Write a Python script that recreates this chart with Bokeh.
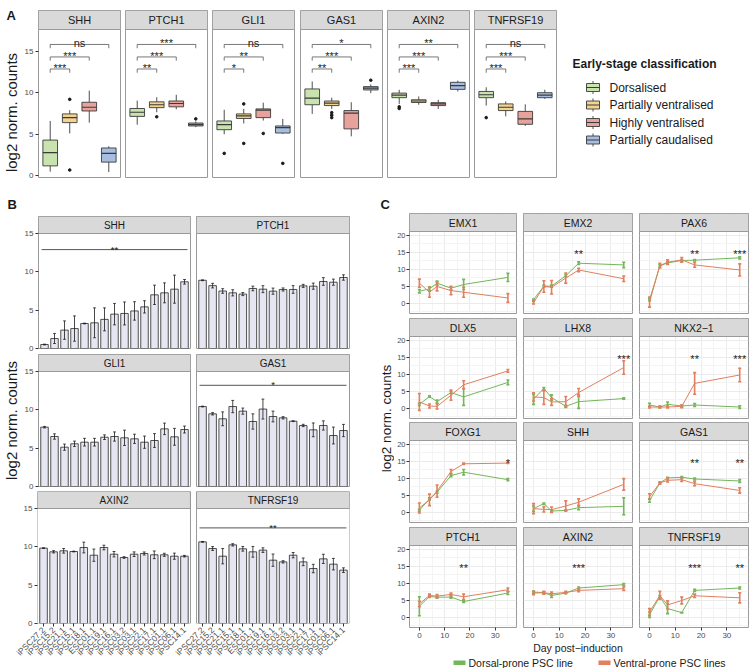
import numpy as np
from bokeh.plotting import figure
from bokeh.models import Range1d, FixedTicker, ColumnDataSource
from bokeh.layouts import row, column
from bokeh.embed import file_html
from bokeh.resources import INLINE
from bokeh.core.properties import value

FONT = "Liberation Sans"
OUTLINE = "#9a9a9a"
STRIP_FILL = "#d9d9d9"
TEXT = "#1a1a1a"
TICK_TEXT = "#4d4d4d"
BOX_LINE = "#3a3a3a"

# ---------------- Panel A data ----------------
a_genes = ["SHH", "PTCH1", "GLI1", "GAS1", "AXIN2", "TNFRSF19"]
a_groups = ["Dorsalised", "Partially ventralised", "Highly ventralised", "Partially caudalised"]
a_colors = ["#C8E3AE", "#F3D48E", "#E7A29C", "#A8BEE0"]
a_lower = [[0.5, 5.1, 6.4, 0.45], [6.15, 7.65, 8.0, 5.85], [5.0, 6.3, 6.65, 5.05],
           [7.45, 8.05, 4.75, 9.95], [8.65, 8.55, 8.05, 10.15], [8.45, 7.15, 6.0, 9.25]]
a_q1 = [[1.2, 6.4, 7.8, 1.65], [7.15, 8.2, 8.3, 6.0], [5.55, 6.9, 7.0, 5.15],
        [8.55, 8.45, 5.65, 10.33], [9.4, 8.82, 8.45, 10.4], [9.4, 7.85, 6.2, 9.4]]
a_median = [[2.8, 7.0, 8.25, 2.7], [7.65, 8.55, 8.7, 6.15], [6.15, 7.2, 7.9, 5.8],
            [9.35, 8.75, 7.55, 10.55], [9.7, 9.0, 8.65, 10.85], [9.75, 8.25, 6.85, 9.7]]
a_q3 = [[4.3, 7.45, 8.85, 3.35], [8.1, 8.9, 9.0, 6.35], [6.6, 7.45, 8.05, 6.0],
        [10.45, 9.0, 7.85, 10.73], [9.95, 9.15, 8.8, 11.25], [10.15, 8.65, 7.75, 10.0]]
a_upper = [[6.6, 7.9, 10.25, 3.55], [9.05, 9.45, 9.75, 6.55], [7.95, 8.05, 8.8, 6.85],
           [11.35, 9.4, 8.85, 11.0], [10.35, 9.55, 9.15, 11.45], [10.65, 8.95, 8.6, 10.35]]
a_outliers = [
    [[], [9.2, 0.7], [], []],
    [[], [7.1], [], [6.85]],
    [[2.7], [8.65, 3.9], [5.1], [1.5]],
    [[], [7.6, 7.3, 7.0], [], [11.5]],
    [[8.3, 8.1], [], [], []],
    [[7.0], [], [], []],
]
a_sig_labels = [["***", "***", "ns"], ["**", "***", "***"], ["*", "**", "ns"],
                ["**", "***", "*"], ["***", "***", "**"], ["***", "***", "ns"]]
a_sig_levels = [12.85, 14.3, 15.8]
a_legend_title = "Early-stage classification"

# ---------------- Panel B data ----------------
b_genes = ["SHH", "PTCH1", "GLI1", "GAS1", "AXIN2", "TNFRSF19"]
b_lines = ["iPSC27.2", "iPSC15.2", "iPSC21.1", "iPSC15.1", "iPSC18.1", "ESC01.1", "iPSC19.1",
           "iPSC16.1", "iPSC03.2", "iPSC03.1", "iPSC22.1", "iPSC17.1", "iPSC01.1", "iPSC06.1", "iPSC14.1"]
b_shh = [0.52, 1.3, 2.4, 2.6, 3.26, 3.35, 3.8, 4.48, 4.57, 4.9, 5.43, 7.0, 7.26, 7.74, 8.7]
b_shh_err = [0.05, 0.65, 1.2, 1.65, 0.05, 1.95, 1.5, 1.4, 1.5, 1.2, 0.8, 1.26, 1.3, 1.83, 0.3]
b_ptch1 = [8.9, 8.2, 7.5, 7.26, 7.1, 7.83, 7.74, 7.48, 7.7, 7.7, 8.17, 8.13, 8.74, 8.65, 9.26]
b_ptch1_err = [0.05, 0.3, 0.3, 0.4, 0.2, 0.3, 0.45, 0.4, 0.2, 0.5, 0.2, 0.4, 0.5, 0.4, 0.35]
b_gli1 = [7.74, 6.52, 5.13, 5.57, 5.78, 5.78, 6.43, 6.52, 6.35, 6.22, 5.78, 6.0, 7.52, 6.48, 7.43]
b_gli1_err = [0.1, 0.35, 0.4, 0.35, 0.5, 0.5, 0.3, 0.6, 1.0, 0.6, 0.8, 0.9, 0.75, 1.1, 0.45]
b_gas1 = [10.43, 9.48, 8.83, 10.43, 9.83, 8.48, 10.1, 9.13, 8.96, 8.52, 7.96, 7.39, 7.96, 6.65, 7.3]
b_gas1_err = [0.05, 0.15, 0.9, 0.8, 0.4, 1.0, 1.3, 0.7, 0.15, 0.05, 0.15, 0.9, 0.6, 1.1, 0.8]
b_axin2 = [9.83, 9.35, 9.48, 9.39, 9.91, 8.91, 9.91, 9.04, 8.61, 9.04, 9.13, 8.96, 8.96, 8.78, 8.78]
b_axin2_err = [0.05, 0.15, 0.3, 0.05, 0.7, 0.8, 0.3, 0.35, 0.1, 0.3, 0.2, 0.5, 0.2, 0.4, 0.1]
b_tnfrsf19 = [10.65, 9.78, 8.78, 10.26, 9.74, 9.35, 9.57, 8.26, 8.04, 8.91, 8.04, 7.17, 8.43, 7.74, 6.96]
b_tnfrsf19_err = [0.05, 0.25, 1.0, 0.15, 0.3, 0.7, 0.3, 0.8, 0.15, 0.35, 0.5, 0.55, 0.6, 0.75, 0.3]
b_sig_text = [("**", 12.9), None, None, ("*", 13.2), None, ("**", 12.47)]
b_sig_span = (0.7, 15.3)

# ---------------- Panel C data ----------------
c_genes = ["EMX1", "EMX2", "PAX6", "DLX5", "LHX8", "NKX2\u22121",
           "FOXG1", "SHH", "GAS1", "PTCH1", "AXIN2", "TNFRSF19"]
c_days = [0, 4, 7, 12.5, 17.5, 35]
c_dorsal = [
    [3.5, 4.2, 5.9, 4.4, 5.5, 7.6], [1.0, 5.0, 5.0, 8.1, 11.8, 11.3], [1.0, 11.0, 11.9, 12.6, 12.7, 13.4],
    [1.1, 3.4, 1.9, 4.6, 3.3, 7.6], [2.6, 5.8, 3.1, 0.5, 1.9, 2.8], [0.9, 0.3, 1.1, 0.6, 0.9, 0.3],
    [0.5, 3.9, 5.9, 10.8, 11.8, 9.6], [1.0, 2.5, 0.3, 0.5, 1.3, 1.7], [3.4, 8.6, 10.1, 10.3, 9.8, 9.2],
    [3.2, 6.1, 5.9, 5.9, 4.6, 7.1], [7.4, 7.2, 6.4, 7.1, 8.6, 9.6], [0.7, 6.1, 2.5, 1.3, 7.9, 8.6]]
c_dorsal_err = [
    [0.5, 0.6, 0.6, 0.5, 1.5, 1.2], [0.2, 0.3, 0.3, 0.3, 0.4, 0.8], [0.3, 0.3, 0.3, 0.3, 0.2, 0.3],
    [0.3, 0.2, 0.5, 0.3, 2.5, 0.7], [1.5, 0.3, 0.8, 0.3, 2.0, 0.2], [0.5, 0.2, 0.7, 0.3, 0.4, 0.4],
    [0.3, 0.3, 0.3, 0.3, 0.8, 0.3], [0.8, 0.2, 0.3, 0.2, 0.6, 2.5], [0.5, 0.3, 0.2, 0.2, 0.3, 0.4],
    [2.8, 0.3, 0.3, 0.3, 0.3, 0.4], [0.3, 0.3, 0.6, 0.2, 0.3, 0.3], [0.8, 0.3, 1.5, 0.0, 0.3, 0.3]]
c_ventral = [
    [5.9, 3.2, 4.9, 3.7, 3.2, 1.5], [0.1, 4.9, 4.7, 7.4, 9.8, 7.2], [0.3, 11.1, 12.1, 12.8, 11.3, 9.8],
    [1.8, 0.6, 0.5, 3.8, 6.9, 11.0], [3.3, 3.1, 1.8, 1.9, 4.6, 12.0], [0.3, 0.3, 0.3, 0.5, 7.3, 9.8],
    [1.2, 3.6, 6.2, 12.0, 14.3, 14.5], [1.0, 0.8, 0.7, 1.8, 2.9, 8.2], [4.6, 8.6, 9.4, 9.6, 8.4, 6.4],
    [3.9, 6.4, 6.2, 6.7, 6.0, 8.1], [7.1, 7.2, 6.9, 7.3, 7.9, 8.4], [1.5, 6.4, 3.6, 4.9, 6.3, 5.7]]
c_ventral_err = [
    [1.2, 1.5, 1.3, 1.2, 1.5, 1.3], [0.4, 1.7, 2.0, 1.5, 0.5, 0.8], [1.5, 0.7, 0.7, 0.7, 0.7, 1.8],
    [2.5, 0.6, 0.8, 1.5, 1.2, 0.4], [1.2, 2.0, 1.0, 1.5, 1.2, 2.0], [0.3, 0.3, 0.3, 0.4, 3.2, 2.0],
    [1.5, 1.7, 1.8, 0.6, 0.2, 0.1], [1.5, 0.8, 0.8, 1.5, 1.0, 1.7], [0.8, 0.3, 0.5, 0.5, 0.6, 0.8],
    [0.8, 0.4, 0.5, 0.4, 0.8, 0.5], [0.5, 0.4, 0.5, 0.3, 0.4, 0.5], [1.0, 1.2, 1.2, 1.0, 0.5, 1.5]]
c_sig = [[], [(17.5, "**")], [(17.5, "**"), (35, "***")],
         [], [(35, "***")], [(17.5, "**"), (35, "***")],
         [(35, "*")], [], [(17.5, "**"), (35, "**")],
         [(17.5, "**")], [(17.5, "***")], [(17.5, "***"), (35, "**")]]
c_group_labels = ["Dorsal-prone PSC line", "Ventral-prone PSC lines"]
c_xlabel = "Day post\u2212induction"
y_label = "log2 norm. counts"
C_GREEN = "#74B65A"
C_ORANGE = "#E27F5F"


# ---------------- helpers ----------------
def base_fig(w, h, bl, br, bt, bb, xr, yr, xaxis=None, yaxis=None):
    p = figure(width=w, height=h, x_range=Range1d(*xr), y_range=Range1d(*yr),
               x_axis_location=xaxis, y_axis_location=yaxis, title=None,
               toolbar_location=None, tools="", output_backend="svg")
    p.frame_align = False
    p.min_border_left = bl
    p.min_border_right = br
    p.min_border_top = bt
    p.min_border_bottom = bb
    p.outline_line_color = OUTLINE
    p.outline_line_width = 1
    p.background_fill_color = "white"
    p.border_fill_color = "white"
    p.xgrid.visible = False
    p.ygrid.visible = False
    return p


def blank_fig(w, h):
    """A figure whose frame is its whole canvas, one unit per pixel."""
    p = base_fig(w, h, 0, 0, 0, 0, (0, w), (0, h))
    p.outline_line_color = None
    return p


def style_axis(ax, size="8px", standoff=2):
    ax.axis_line_color = None
    ax.major_tick_line_color = "#333333"
    ax.major_tick_out = 3
    ax.major_tick_in = 0
    ax.minor_tick_line_color = None
    ax.major_label_text_font = FONT
    ax.major_label_text_font_size = size
    ax.major_label_text_color = TICK_TEXT
    ax.major_label_standoff = standoff


def put_text(p, x, y, s, size, bold=False, angle=0.0, align="left", baseline="middle", color=TEXT):
    p.text(x=[x], y=[y], text=[s], angle=angle, text_align=align, text_baseline=baseline,
           text_font=value(FONT), text_font_size=size,
           text_font_style=value("bold" if bold else "normal"), text_color=color)


def add_strip(p, xr, ypanel_top, ytop, text, size):
    p.quad(left=[xr[0]], right=[xr[1]], bottom=[ypanel_top], top=[ytop],
           fill_color=STRIP_FILL, line_color=OUTLINE, line_width=1)
    put_text(p, (xr[0] + xr[1]) / 2, (ypanel_top + ytop) / 2, text, size, align="center")


# ---------------- Panel A ----------------
A_H, A_BT, A_FH = 195, 10, 167
A_BB = A_H - A_BT - A_FH
a_widths = [(101, 17, 2), (87, 3, 2), (88, 3, 3), (87, 3, 2), (88, 3, 3), (86, 2, 2)]
a_xr = (0.4, 4.6)
a_ylo, a_yhi = -0.2, 17.6
a_strip_px = 19
a_ytop = a_yhi + a_strip_px * (a_yhi - a_ylo) / (A_FH - a_strip_px)
BOX_W = 0.75

ylab_a = blank_fig(21, A_H)
put_text(ylab_a, 6, A_H - 14.5, "A", "13px", bold=True)
put_text(ylab_a, 11, A_H - 112, y_label, "15px", angle=np.pi / 2, align="center")

a_figs = []
for gi, gene in enumerate(a_genes):
    w, bl, br = a_widths[gi]
    p = base_fig(w, A_H, bl, br, A_BT, A_BB, a_xr, (a_ylo, a_ytop),
                 yaxis="left" if gi == 0 else None)
    add_strip(p, a_xr, a_yhi, a_ytop, gene, "11px")
    for k in range(4):
        x = k + 1
        src = ColumnDataSource(dict(x=[x], x0=[x - BOX_W / 2], x1=[x + BOX_W / 2],
                                    lo=[a_lower[gi][k]], q1=[a_q1[gi][k]], med=[a_median[gi][k]],
                                    q3=[a_q3[gi][k]], up=[a_upper[gi][k]]))
        p.segment(x0="x", y0="q3", x1="x", y1="up", source=src, line_color=BOX_LINE, line_width=0.9)
        p.segment(x0="x", y0="lo", x1="x", y1="q1", source=src, line_color=BOX_LINE, line_width=0.9)
        p.vbar(x="x", width=BOX_W, bottom="q1", top="q3", source=src,
               fill_color=a_colors[k], line_color=BOX_LINE, line_width=0.9)
        p.segment(x0="x0", y0="med", x1="x1", y1="med", source=src,
                  line_color=BOX_LINE, line_width=1.2)
        outs = a_outliers[gi][k]
        if outs:
            p.scatter(x=[x] * len(outs), y=outs, size=2.6, color=TEXT)
    for lvl, (end, lab) in enumerate(zip([2, 3, 4], a_sig_labels[gi])):
        y = a_sig_levels[lvl]
        p.line(x=[1, 1, end, end], y=[y - 0.45, y, y, y - 0.45], line_color="#555555", line_width=0.8)
        put_text(p, (1 + end) / 2, y + 0.15, lab, "11px", align="center", baseline="alphabetic")
    if gi == 0:
        ax = p.yaxis[0]
        style_axis(ax)
        ax.ticker = FixedTicker(ticks=[0, 5, 10, 15])
    a_figs.append(p)

# legend for A (drawn as a key panel)
LA_W = 191
leg_a = blank_fig(LA_W, A_H)
put_text(leg_a, 14, A_H - 63, a_legend_title, "12px", bold=True)
for k, grp in enumerate(a_groups):
    yc = A_H - (87 + 17.5 * k)
    leg_a.segment(x0=[34.5, 34.5], y0=[yc + 4, yc - 4], x1=[34.5, 34.5], y1=[yc + 6.5, yc - 6.5],
                  line_color=BOX_LINE, line_width=0.9)
    leg_a.quad(left=[28], right=[41], bottom=[yc - 4], top=[yc + 4],
               fill_color=a_colors[k], line_color=BOX_LINE, line_width=0.9)
    leg_a.segment(x0=[28], y0=[yc], x1=[41], y1=[yc], line_color=BOX_LINE, line_width=1.2)
    put_text(leg_a, 51, yc, grp, "12px")

row_a = row(ylab_a, *a_figs, leg_a)

# ---------------- Panel B ----------------
b_vals = [b_shh, b_ptch1, b_gli1, b_gas1, b_axin2, b_tnfrsf19]
b_errs = [b_shh_err, b_ptch1_err, b_gli1_err, b_gas1_err, b_axin2_err, b_tnfrsf19_err]
B_FH = 132
b_xr = (0.4, 15.6)
b_ylo, b_yhi = 0.0, 15.0
b_strip_px = 17
b_ytop = b_yhi + b_strip_px * (b_yhi - b_ylo) / (B_FH - b_strip_px)
b_x = list(range(1, len(b_lines) + 1))
B_OFF = 15.8  # horizontal shift of the right-hand facet in the shared bottom figure


def draw_b_panel(p, gi, off, boxed=False):
    xr = (b_xr[0] + off, b_xr[1] + off)
    add_strip(p, xr, b_yhi, b_ytop, b_genes[gi], "10px")
    vals = b_vals[gi]
    errs = b_errs[gi]
    xs = [x + off for x in b_x]
    lo = [v - e for v, e in zip(vals, errs)]
    hi = [v + e for v, e in zip(vals, errs)]
    src = ColumnDataSource(dict(x=xs, top=vals, lo=lo, hi=hi,
                                cl=[x - 0.14 for x in xs], cr=[x + 0.14 for x in xs]))
    p.vbar(x="x", top="top", bottom=0, width=0.75, source=src,
           fill_color="#E6E6F2", line_color="#262626", line_width=0.8)
    p.segment(x0="x", y0="lo", x1="x", y1="hi", source=src, line_color="#1a1a1a", line_width=0.8)
    p.segment(x0="cl", y0="hi", x1="cr", y1="hi", source=src, line_color="#1a1a1a", line_width=0.8)
    p.segment(x0="cl", y0="lo", x1="cr", y1="lo", source=src, line_color="#1a1a1a", line_width=0.8)
    if b_sig_text[gi] is not None:
        lab, yv = b_sig_text[gi]
        p.segment(x0=[b_sig_span[0] + off], y0=[yv], x1=[b_sig_span[1] + off], y1=[yv],
                  line_color="#555555", line_width=1)
        put_text(p, (b_sig_span[0] + b_sig_span[1]) / 2 + off, yv + 0.05, lab, "9.5px",
                 align="center", baseline="alphabetic")
    if boxed:
        p.quad(left=[xr[0]], right=[xr[1]], bottom=[b_ylo], top=[b_ytop],
               fill_color=None, line_color=OUTLINE, line_width=1)


b_rows_spec = [(158, 21, 5), (138, 1, 5)]
b_cols_spec = [(172, 16, 3), (185, 3, 29)]
b_rows = []
for r in range(2):
    h, bt, bb = b_rows_spec[r]
    figs = []
    for c in range(2):
        gi = r * 2 + c
        w, bl, br = b_cols_spec[c]
        p = base_fig(w, h, bl, br, bt, bb, b_xr, (b_ylo, b_ytop),
                     yaxis="left" if c == 0 else None)
        draw_b_panel(p, gi, 0)
        if c == 0:
            ax = p.yaxis[0]
            style_axis(ax)
            ax.ticker = FixedTicker(ticks=[0, 5, 10, 15])
        figs.append(p)
    b_rows.append(row(*figs))

B_TOP_H = sum(s[0] for s in b_rows_spec)
ylab_b = blank_fig(21, B_TOP_H)
put_text(ylab_b, 7, B_TOP_H - 9, "B", "13px", bold=True)
put_text(ylab_b, 11, B_TOP_H - 225, y_label, "15px", angle=np.pi / 2, align="center")

# bottom row of panel B: both facets share one canvas so the slanted labels are not cut
p_b3 = base_fig(378, 177, 37, 29, 0, 45, (b_xr[0], b_xr[1] + B_OFF), (b_ylo, b_ytop),
                xaxis="below", yaxis="left")
p_b3.outline_line_color = None
draw_b_panel(p_b3, 4, 0, boxed=True)
draw_b_panel(p_b3, 5, B_OFF, boxed=True)
ax = p_b3.yaxis[0]
style_axis(ax)
ax.ticker = FixedTicker(ticks=[0, 5, 10, 15])
ax = p_b3.xaxis[0]
style_axis(ax, size="8.5px", standoff=2)
b3_ticks = b_x + [round(x + B_OFF, 6) for x in b_x]
ax.ticker = FixedTicker(ticks=b3_ticks)
ax.major_label_overrides = {t: name for t, name in zip(b3_ticks, b_lines + b_lines)}
ax.major_label_orientation = np.pi / 4

col_b = column(row(ylab_b, column(*b_rows)), p_b3)

# ---------------- Panel C ----------------
C_FH = 100
C_YLAB_W = 16
c_rows_spec = [(121, 18, 3), (105, 2, 3), (105, 1, 4), (116, 1, 15)]
c_cols_spec = [(125, 13, 3), (116, 4, 3), (114, 4, 1)]
c_xr = (-3.9, 38.4)
c_ylo, c_yhi = -3.1, 21.2
c_strip_px = 18
c_ytop = c_yhi + c_strip_px * (c_yhi - c_ylo) / (C_FH - c_strip_px)
CAP = 0.6
C_GRID_H = sum(s[0] for s in c_rows_spec)
C_W = C_YLAB_W + sum(s[0] for s in c_cols_spec)

c_rows = []
for r in range(4):
    h, bt, bb = c_rows_spec[r]
    figs = []
    for c in range(3):
        gi = r * 3 + c
        w, bl, br = c_cols_spec[c]
        p = base_fig(w, h, bl, br, bt, bb, c_xr, (c_ylo, c_ytop),
                     xaxis="below" if r == 3 else None, yaxis="left" if c == 0 else None)
        p.xgrid.visible = True
        p.ygrid.visible = True
        p.xgrid.ticker = FixedTicker(ticks=[0, 10, 20, 30], minor_ticks=[5, 15, 25, 35])
        p.ygrid.ticker = FixedTicker(ticks=[0, 5, 10, 15, 20], minor_ticks=[-2.5, 2.5, 7.5, 12.5, 17.5])
        p.xgrid.grid_line_color = "#EBEBEB"
        p.ygrid.grid_line_color = "#EBEBEB"
        p.xgrid.minor_grid_line_color = "#F4F4F4"
        p.ygrid.minor_grid_line_color = "#F4F4F4"
        add_strip(p, c_xr, c_yhi, c_ytop, c_genes[gi], "10.5px")
        for vals, errs, col in ((c_dorsal[gi], c_dorsal_err[gi], C_GREEN),
                                (c_ventral[gi], c_ventral_err[gi], C_ORANGE)):
            lo = [v - e for v, e in zip(vals, errs)]
            hi = [v + e for v, e in zip(vals, errs)]
            src = ColumnDataSource(dict(x=c_days, y=vals, lo=lo, hi=hi,
                                        cl=[d - CAP for d in c_days], cr=[d + CAP for d in c_days]))
            p.line(x="x", y="y", source=src, line_color=col, line_width=1)
            p.segment(x0="x", y0="lo", x1="x", y1="hi", source=src, line_color=col, line_width=1.6)
            p.segment(x0="cl", y0="hi", x1="cr", y1="hi", source=src, line_color=col, line_width=1.6)
            p.segment(x0="cl", y0="lo", x1="cr", y1="lo", source=src, line_color=col, line_width=1.6)
        for day, lab in c_sig[gi]:
            put_text(p, day, 14.4, lab, "11px", align="center", baseline="alphabetic")
        if c == 0:
            ax = p.yaxis[0]
            style_axis(ax, size="7.5px", standoff=1)
            ax.ticker = FixedTicker(ticks=[0, 5, 10, 15, 20])
        if r == 3:
            ax = p.xaxis[0]
            style_axis(ax, size="8px", standoff=2)
            ax.ticker = FixedTicker(ticks=[0, 10, 20, 30])
        figs.append(p)
    c_rows.append(row(*figs))

grid_c = column(*c_rows)

ylab_c = blank_fig(C_YLAB_W, C_GRID_H)
put_text(ylab_c, 2, C_GRID_H - 9, "C", "13px", bold=True)
put_text(ylab_c, 8, C_GRID_H - 223, y_label, "13.5px", angle=np.pi / 2, align="center")

BOT_H = 26
bot_c = blank_fig(C_W, BOT_H)
put_text(bot_c, 199.5, 21, c_xlabel, "10.5px", align="center")
for k, (lab, col) in enumerate(zip(c_group_labels, [C_GREEN, C_ORANGE])):
    x0 = 75 + 145 * k
    bot_c.quad(left=[x0], right=[x0 + 12], bottom=[3.5], top=[8], fill_color=col, line_color=None)
    put_text(bot_c, x0 + 15, 6, lab, "10.5px")

col_c = column(row(ylab_c, grid_c), bot_c)

page = column(row_a, row(col_b, col_c))

open("out.html", "w").write(file_html(page, INLINE))
